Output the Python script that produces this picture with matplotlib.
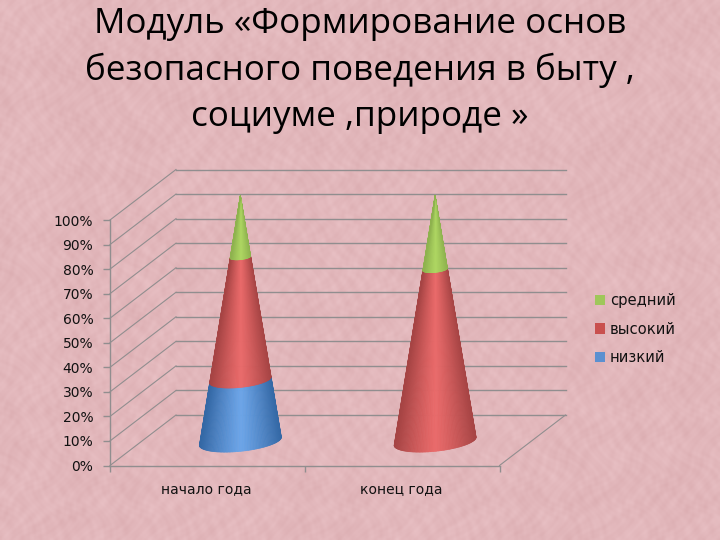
import numpy as np
import matplotlib
matplotlib.use('Agg')
import matplotlib.pyplot as plt
from matplotlib.collections import PolyCollection
from matplotlib.patches import Patch

# Данные диаграммы
kategorii = ['начало года', 'конец года']
nizkiy = [25, 0]
vysokiy = [50, 70]
sredniy = [25, 30]
procenty = [0, 10, 20, 30, 40, 50, 60, 70, 80, 90, 100]

zagolovok = 'Модуль «Формирование основ\nбезопасного поведения в быту ,\nсоциуме ,природе »'

W, H = 720, 540
fig = plt.figure(figsize=(W / 100, H / 100), dpi=100)

# фон - розовая "бумага"
bg = fig.add_axes([0, 0, 1, 1], zorder=0)
yy, xx = np.mgrid[0:H:2, 0:W:2]
fon = (0.7 * np.sin(xx * 0.37 + 2.5 * np.sin(yy * 0.061)) * np.sin(yy * 0.29 + 2.5 * np.sin(xx * 0.047))
       + 0.5 * np.sin(xx * 0.053 + 3 * np.sin(yy * 0.037)) * np.sin(yy * 0.071 + 3 * np.sin(xx * 0.029))
       + 0.5 * np.sin(xx * 0.71 + np.sin(yy * 0.13) * 4) * np.sin(yy * 0.57 + np.sin(xx * 0.09) * 4))
fon = fon / np.abs(fon).max()
rgb = np.dstack([(226 + 7 * fon) / 255, (183 + 10 * fon) / 255, (187 + 10 * fon) / 255])
bg.imshow(rgb, extent=[0, W, H, 0], aspect='auto', interpolation='bilinear')
bg.axis('off')

fig.text(0.5, 1 - 7 / H, zagolovok, ha='center', va='top', fontsize=25.2, family='Open Sans',
         color='#000000', linespacing=1.44, zorder=5)

# передняя плоскость диаграммы
ax = fig.add_axes([110 / W, 1 - 465.5 / H, 389.5 / W, 245.5 / H], zorder=2)
ax.patch.set_alpha(0)
ax.set_xlim(0, 2)
ax.set_ylim(0, 100)
gray = '#918e8f'
for s in ['top', 'right']:
    ax.spines[s].set_visible(False)
for s in ['left', 'bottom']:
    ax.spines[s].set_color(gray)
    ax.spines[s].set_linewidth(1.0)
ax.set_yticks(procenty)
ax.set_yticklabels([f'{p}%' for p in procenty], fontsize=10, color='#111111')
ax.set_xticks([0, 1, 2])
ax.set_xticklabels(['', '', ''])
ax.tick_params(axis='y', color=gray, length=5, width=1.0, pad=7)
ax.tick_params(axis='x', color=gray, length=4, width=1.0)
for i, k in enumerate(kategorii):
    ax.text(i + 0.5 - 0.006, -9.5, k, ha='center', va='center', fontsize=10, color='#111111')

# глубина (псевдо 3D)
dx = 66 / 194.75
dy = 50.5 / 2.455

for p in procenty:
    ax.plot([0, dx], [p, p + dy], color=gray, lw=0.8, clip_on=False, zorder=1)
    ax.plot([dx, 2 + dx], [p + dy, p + dy], color=gray, lw=1.0, clip_on=False, zorder=1)
ax.plot([2, 2 + dx], [0, dy], color=gray, lw=0.8, clip_on=False, zorder=1)


def konus(ax, cx, v0, v1, svet, ten):
    # боковая поверхность конуса полосками по углу
    r0 = 0.2105
    ry = 4.1
    nakl = 1.67
    t = np.linspace(0, np.pi, 81)
    cy = dy / 2 - 0.4

    def tochka(tt, v):
        k = 1 - v / 100
        return (cx + r0 * k * np.cos(tt),
                cy + v + k * (nakl * np.cos(tt) - ry * np.sin(tt)))

    polys, cols = [], []
    for a, b in zip(t[:-1], t[1:]):
        xa0, ya0 = tochka(a, v0)
        xb0, yb0 = tochka(b, v0)
        xa1, ya1 = tochka(a, v1)
        xb1, yb1 = tochka(b, v1)
        polys.append([(xa0, ya0), (xb0, yb0), (xb1, yb1), (xa1, ya1)])
        s = abs(np.cos((a + b) / 2)) ** 1.15
        cols.append(np.array(svet) * (1 - s) + np.array(ten) * s)
    pc = PolyCollection(polys, facecolors=cols, edgecolors=cols, linewidths=0.5, clip_on=False, zorder=3)
    ax.add_collection(pc)


ryady = [
    (nizkiy, (108 / 255, 165 / 255, 233 / 255), (52 / 255, 104 / 255, 165 / 255), '#5b90d0', 'низкий'),
    (vysokiy, (234 / 255, 106 / 255, 106 / 255), (166 / 255, 68 / 255, 68 / 255), '#c9504e', 'высокий'),
    (sredniy, (174 / 255, 214 / 255, 98 / 255), (142 / 255, 178 / 255, 78 / 255), '#9fc75a', 'средний'),
]

for i in range(len(kategorii)):
    niz = 0
    for vals, svet, ten, _, _ in ryady:
        if vals[i] > 0:
            konus(ax, i + 0.5 + dx / 2, niz, niz + vals[i], svet, ten)
        niz += vals[i]

handles = [Patch(facecolor=c, edgecolor='none', label=n) for _, _, _, c, n in ryady[::-1]]
fig.legend(handles=handles, loc='center left', bbox_to_anchor=(595 / W, 1 - 329 / H), frameon=False,
           fontsize=10.6, handlelength=0.7, handleheight=0.7, handletextpad=0.3, labelspacing=0.92,
           labelcolor='#111111', borderpad=0, borderaxespad=0)

fig.savefig('out.png', dpi=100)
